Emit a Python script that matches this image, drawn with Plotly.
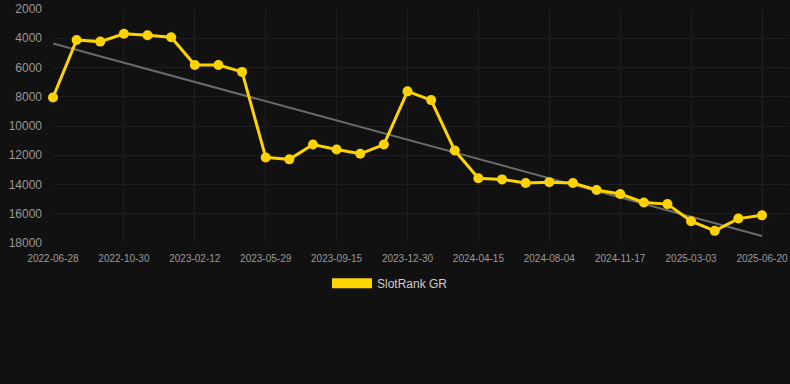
import plotly.graph_objects as go

dates = [
    "2022-06-28", "2022-08-09", "2022-09-20", "2022-10-30", "2022-12-05", "2023-01-08",
    "2023-02-12", "2023-03-18", "2023-04-23", "2023-05-29", "2023-07-05", "2023-08-10",
    "2023-09-15", "2023-10-21", "2023-11-25", "2023-12-30", "2024-02-04", "2024-03-10",
    "2024-04-15", "2024-05-22", "2024-06-28", "2024-08-04", "2024-09-10", "2024-10-14",
    "2024-11-17", "2024-12-22", "2025-01-26", "2025-03-03", "2025-04-08", "2025-05-14",
    "2025-06-20",
]
rank = [
    8050, 4120, 4230, 3690, 3800, 3930, 5830, 5830, 6300, 12150, 12280, 11270,
    11610, 11900, 11270, 7630, 8230, 11680, 13570, 13650, 13900, 13840, 13900,
    14380, 14650, 15230, 15340, 16510, 17170, 16330, 16110,
]
tick_labels = ["2022-06-28", "2022-10-30", "2023-02-12", "2023-05-29", "2023-09-15",
               "2023-12-30", "2024-04-15", "2024-08-04", "2024-11-17", "2025-03-03",
               "2025-06-20"]
y_ticks = [2000, 4000, 6000, 8000, 10000, 12000, 14000, 16000, 18000]
y_tick_text = [str(v) for v in y_ticks]
trend_x = [dates[0], dates[-1]]
trend_y = [4360, 17520]

gold = "#FFD300"
fig = go.Figure()
fig.add_trace(go.Scatter(
    x=trend_x, y=trend_y, mode="lines", cliponaxis=False,
    line=dict(color="#6b6b6b", width=2), showlegend=False, hoverinfo="skip"))
fig.add_trace(go.Scatter(
    x=dates, y=rank, mode="lines+markers", cliponaxis=False,
    line=dict(color=gold, width=3), marker=dict(color=gold, size=10),
    showlegend=False, name="SlotRank GR"))
fig.add_trace(go.Scatter(
    x=[None], y=[None], mode="lines", name="SlotRank GR",
    line=dict(color=gold, width=12), showlegend=True))

fig.update_layout(
    width=790, height=384,
    paper_bgcolor="#111111", plot_bgcolor="#111111",
    margin=dict(l=53, r=2, t=6, b=141),
    font=dict(family="Arial, Liberation Sans, sans-serif", color="#999999"),
    legend=dict(orientation="h", x=0.4585, xanchor="center", y=-0.11, yanchor="top",
                font=dict(size=12, color="#cccccc"), itemwidth=40,
                bgcolor="rgba(0,0,0,0)"),
    xaxis=dict(type="category", categoryorder="array", categoryarray=dates,
               range=[0, 31.1], tickmode="array", tickvals=tick_labels,
               ticktext=tick_labels, tickfont=dict(size=10, color="#999999"),
               showgrid=True, gridcolor="#1d1d1d", gridwidth=1,
               zeroline=False, showline=False, ticks="", ticklabelstandoff=8),
    yaxis=dict(range=[18000, 2000], tickmode="array", tickvals=y_ticks,
               ticktext=y_tick_text, ticklabeloverflow="allow",
               tickfont=dict(size=12, color="#999999"),
               showgrid=True, gridcolor="#1d1d1d", gridwidth=1,
               zeroline=False, showline=False, ticks="", ticklabelstandoff=10),
)
fig.write_html("out.html", config={"displayModeBar": False},
               post_script="document.body.style.margin='0';document.body.style.background='#111111';")
